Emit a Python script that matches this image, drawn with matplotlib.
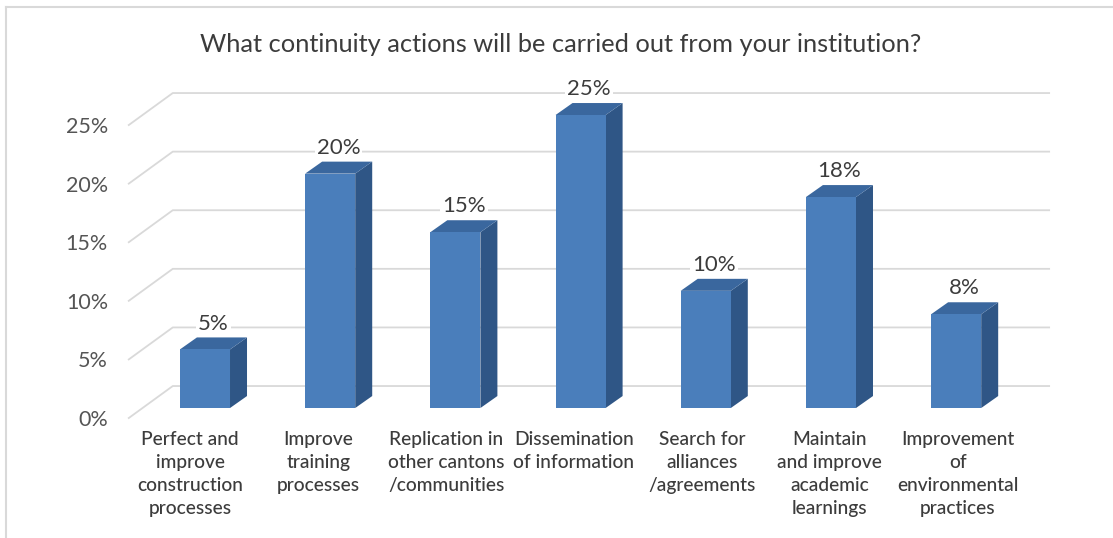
import matplotlib.pyplot as plt
from matplotlib.patches import Polygon
from matplotlib.lines import Line2D
from matplotlib.ticker import FuncFormatter
import numpy as np

plt.rcParams['font.family'] = ['Lato', 'DejaVu Sans']

title = "What continuity actions will be carried out from your institution?"
categories = [
    "Perfect and\nimprove\nconstruction\nprocesses",
    "Improve\ntraining\nprocesses",
    "Replication in\nother cantons\n/communities",
    "Dissemination\nof information",
    "Search for\nalliances\n/agreements",
    "Maintain\nand improve\nacademic\nlearnings",
    "Improvement\nof\nenvironmental\npractices",
]
values = [5, 20, 15, 25, 10, 18, 8]
value_labels = ["5%", "20%", "15%", "25%", "10%", "18%", "8%"]
y_ticks = [0, 5, 10, 15, 20, 25]

# colours of the 3d bar faces
c_front = '#4a7ebb'
c_side = '#2f5686'
c_top = '#3a679e'
grid_c = '#d9d9d9'
text_c = '#3c3c3c'

# depth offsets (data units) for the floor and for the bars
floor_dx, floor_dy = 0.3514, 2.73
bar_x0, bar_y0 = 0.1086, 0.853
bar_dx, bar_dy = 0.1358, 1.024
bar_w = 0.40

fig = plt.figure(figsize=(11.13, 5.38), dpi=100)
ax = fig.add_axes([0.1157, 0.2230, 0.7874, 0.5446])
ax.set_xlim(-0.5, 6.5)
ax.set_ylim(0, 25)
for s in ax.spines.values():
    s.set_visible(False)

# back wall gridlines with the slanted side-wall part
x_left, x_right = -0.5, 6.5
for v in y_ticks:
    ax.plot([x_left, x_left + floor_dx, x_right + floor_dx],
            [v, v + floor_dy, v + floor_dy],
            color=grid_c, lw=1.3, clip_on=False, zorder=1)

x = np.arange(len(values))
for xi, v, lab in zip(x, values, value_labels):
    l = xi + bar_x0 - bar_w / 2
    r = xi + bar_x0 + bar_w / 2
    b = bar_y0
    t = bar_y0 + v
    side = Polygon([(r, b), (r + bar_dx, b + bar_dy), (r + bar_dx, t + bar_dy), (r, t)],
                   closed=True, fc=c_side, ec='none', clip_on=False, zorder=3)
    top = Polygon([(l, t), (r, t), (r + bar_dx, t + bar_dy), (l + bar_dx, t + bar_dy)],
                  closed=True, fc=c_top, ec='none', clip_on=False, zorder=3)
    ax.add_patch(side)
    ax.add_patch(top)
    ax.bar(xi + bar_x0, v, width=bar_w, bottom=b, color=c_front, zorder=4, clip_on=False)
    ax.annotate(lab, (xi + bar_x0 + bar_dx / 2, t + bar_dy), xytext=(0, 10),
                textcoords='offset points', ha='center', va='center',
                fontsize=16, color=text_c, zorder=5, annotation_clip=False,
                bbox=dict(fc='white', ec='none', pad=1.5))

ax.set_yticks(y_ticks)
ax.yaxis.set_major_formatter(FuncFormatter(lambda v, p: f"{v:.0f}%"))
ax.tick_params(axis='y', length=0, pad=15, labelsize=15.5, labelcolor='#555555')
# category labels sit on the front edge of the floor, spread a bit wider
ax.set_xticks(3.056 + 1.0216 * (x - 3))
ax.set_xticklabels(categories, fontsize=13.8, color=text_c, linespacing=1.45,
                   fontweight='medium')
ax.tick_params(axis='x', length=0, pad=9)

fig.text(561 / 1113, 1 - 52 / 538, title, ha='center', va='baseline',
         fontsize=18.3, color=text_c)

# light frame on the top and left edges
fig.add_artist(Line2D([6 / 1113, 1], [1 - 7 / 538] * 2, color=grid_c, lw=1.5))
fig.add_artist(Line2D([6 / 1113] * 2, [0, 1 - 7 / 538], color=grid_c, lw=1.5))

fig.savefig('out.png', dpi=100)
